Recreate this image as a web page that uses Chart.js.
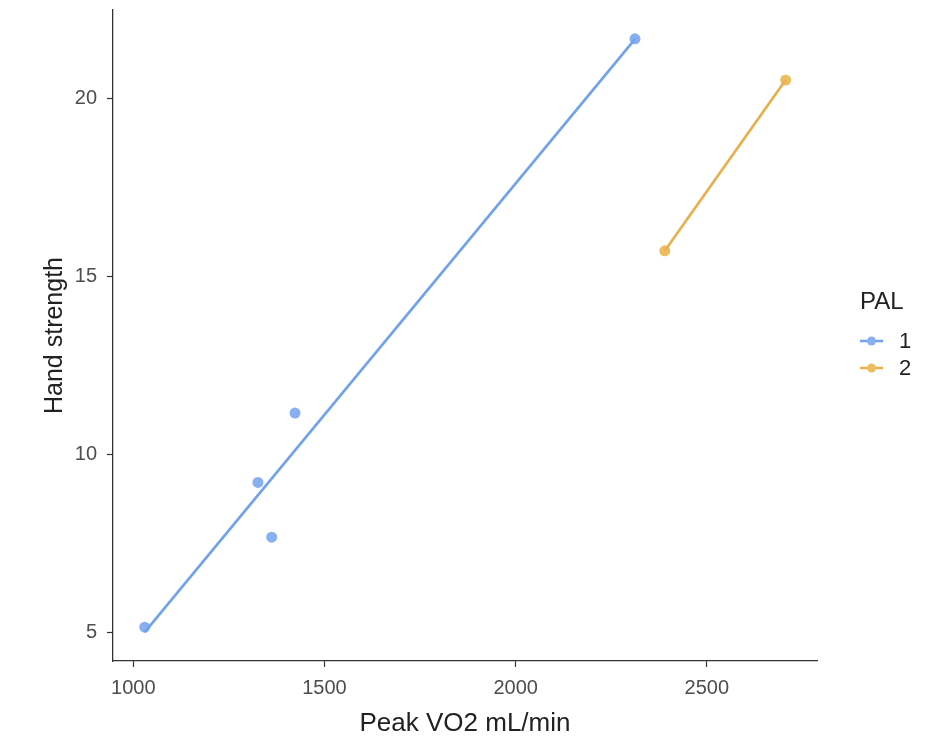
<!DOCTYPE html>
<html>
<head>
<meta charset="utf-8">
<title>Peak VO2 vs Hand strength</title>
<script src="https://cdn.jsdelivr.net/npm/chart.js@4.4.1/dist/chart.umd.min.js"></script>
<style>
    body { margin: 0; background: #fff; }
    canvas { display: block; }
</style>
</head>
<body>
<canvas id="myChart" width="944" height="741"></canvas>
<script>
// les données lues du graphique
const pal1VO2 = [1030, 1326, 1362, 1423, 2312];
const pal1Force = [5.15, 9.22, 7.68, 11.17, 21.69];
const pal2VO2 = [2390, 2706];
const pal2Force = [15.73, 20.53];

// droites de régression (extrémités)
const fit1VO2 = [1030, 2312];
const fit1Force = [5.01, 21.68];
const fit2VO2 = [2390, 2706];
const fit2Force = [15.73, 20.53];

const xTicks = [1000, 1500, 2000, 2500];
const yTicks = [5, 10, 15, 20];
const groupes = ['1', '2'];

const bleuLigne = '#72a2e9';
const bleuPoint = '#88aff0';
const orangeLigne = '#e8b04c';
const orangePoint = '#eebd62';
const police = '"Liberation Sans", Arial, sans-serif';

function toPoints(xs, ys) {
    return xs.map((x, i) => ({ x: x, y: ys[i] }));
}

// légende dessinée à la main, à droite
const legendePAL = {
    id: 'legendePAL',
    afterDraw(chart) {
        const ctx = chart.ctx;
        ctx.save();
        ctx.fillStyle = '#222';
        ctx.font = '24px ' + police;
        ctx.textAlign = 'left';
        ctx.textBaseline = 'middle';
        ctx.fillText('PAL', 860, 302);
        const couleurs = [[bleuLigne, bleuPoint], [orangeLigne, orangePoint]];
        const ys = [341, 368];
        groupes.forEach((g, i) => {
            ctx.strokeStyle = couleurs[i][0];
            ctx.lineWidth = 2.5;
            ctx.beginPath();
            ctx.moveTo(860, ys[i]);
            ctx.lineTo(883, ys[i]);
            ctx.stroke();
            ctx.fillStyle = couleurs[i][1];
            ctx.beginPath();
            ctx.arc(871.5, ys[i], 4.5, 0, Math.PI * 2);
            ctx.fill();
            ctx.fillStyle = '#222';
            ctx.font = '22px ' + police;
            ctx.fillText(g, 899, ys[i] + 1);
        });
        ctx.restore();
    }
};

// pas de marge auto autour des axes
function sansMarge(scale) {
    scale.paddingTop = 0;
    scale.paddingBottom = 0;
    scale.paddingLeft = 0;
    scale.paddingRight = 0;
}

var ctx = document.getElementById('myChart').getContext('2d');
var myChart = new Chart(ctx, {
    type: 'scatter',
    data: {
        datasets: [{
            label: '1',
            data: toPoints(fit1VO2, fit1Force),
            showLine: true,
            borderColor: bleuLigne,
            borderWidth: 2.7,
            pointRadius: 0
        }, {
            label: '2',
            data: toPoints(fit2VO2, fit2Force),
            showLine: true,
            borderColor: orangeLigne,
            borderWidth: 2.7,
            pointRadius: 0
        }, {
            label: '1',
            data: toPoints(pal1VO2, pal1Force),
            backgroundColor: bleuPoint,
            borderWidth: 0,
            pointRadius: 5.5
        }, {
            label: '2',
            data: toPoints(pal2VO2, pal2Force),
            backgroundColor: orangePoint,
            borderWidth: 0,
            pointRadius: 5.5
        }]
    },
    options: {
        responsive: false,
        animation: false,
        layout: { padding: { left: 0, right: 127, top: 10, bottom: 0 } },
        plugins: {
            legend: { display: false },
            tooltip: { enabled: false }
        },
        scales: {
            x: {
                type: 'linear',
                min: 947,
                max: 2788,
                afterBuildTicks: (scale) => { scale.ticks = xTicks.map(v => ({ value: v })); },
                afterFit: (scale) => { scale.height = 80; sansMarge(scale); },
                grid: { drawOnChartArea: false, drawTicks: true, tickLength: 6, tickWidth: 1.2, tickColor: '#333' },
                border: { display: true, color: '#333', width: 1.3 },
                ticks: {
                    color: '#4d4d4d',
                    padding: 9,
                    callback: (v) => String(v),
                    font: { family: police, size: 20 }
                },
                title: {
                    display: true,
                    text: 'Peak VO2 mL/min',
                    color: '#222',
                    font: { family: police, size: 26 },
                    padding: { top: 0, bottom: 1.5 }
                }
            },
            y: {
                type: 'linear',
                min: 4.2,
                max: 22.5,
                afterBuildTicks: (scale) => { scale.ticks = yTicks.map(v => ({ value: v })); },
                afterFit: (scale) => { scale.width = 113; sansMarge(scale); },
                grid: { drawOnChartArea: false, drawTicks: true, tickLength: 6, tickWidth: 1.2, tickColor: '#333' },
                border: { display: true, color: '#333', width: 1.3 },
                ticks: {
                    color: '#4d4d4d',
                    padding: 10,
                    callback: (v) => String(v),
                    font: { family: police, size: 20 }
                },
                title: {
                    display: true,
                    text: 'Hand strength',
                    color: '#222',
                    font: { family: police, size: 25 },
                    padding: { top: 40, bottom: 0 }
                }
            }
        }
    },
    plugins: [legendePAL]
});
</script>
</body>
</html>
